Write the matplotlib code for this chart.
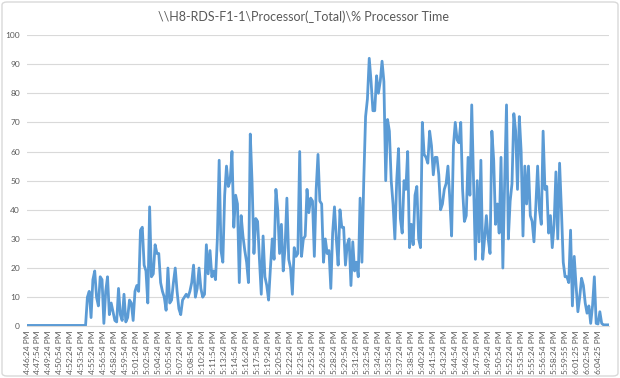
import matplotlib
matplotlib.use("Agg")
import matplotlib.pyplot as plt
from matplotlib.patches import FancyBboxPatch
import numpy as np

plt.rcParams['font.family'] = ['Lato', 'DejaVu Sans']

title = "\\\\H8-RDS-F1-1\\Processor(_Total)\\% Processor Time"

# one sample every ~15 s, a label every 6th sample
tick_labels = [
    "4:46:24 PM", "4:47:54 PM", "4:49:24 PM", "4:50:54 PM", "4:52:24 PM", "4:53:54 PM",
    "4:55:24 PM", "4:56:54 PM", "4:58:24 PM", "4:59:54 PM", "5:01:24 PM", "5:02:54 PM",
    "5:04:24 PM", "5:05:54 PM", "5:07:24 PM", "5:08:54 PM", "5:10:24 PM", "5:11:54 PM",
    "5:13:24 PM", "5:14:54 PM", "5:16:24 PM", "5:17:54 PM", "5:19:24 PM", "5:20:54 PM",
    "5:22:24 PM", "5:23:54 PM", "5:25:24 PM", "5:26:54 PM", "5:28:24 PM", "5:29:54 PM",
    "5:31:24 PM", "5:32:54 PM", "5:34:24 PM", "5:35:54 PM", "5:37:24 PM", "5:38:54 PM",
    "5:40:24 PM", "5:41:54 PM", "5:43:24 PM", "5:44:54 PM", "5:46:24 PM", "5:47:54 PM",
    "5:49:24 PM", "5:50:54 PM", "5:52:24 PM", "5:53:54 PM", "5:55:24 PM", "5:56:54 PM",
    "5:58:24 PM", "5:59:55 PM", "6:01:25 PM", "6:02:54 PM", "6:04:25 PM",
]
label_step = 6

# % processor time
cpu_pct = [
    # idle start
    0.3, 0.3, 0.3, 0.3, 0.3, 0.3, 0.3, 0.3, 0.3, 0.3, 0.3,
    0.3, 0.3, 0.3, 0.3, 0.3, 0.3, 0.3, 0.3, 0.3, 0.3, 0.3,
    0.3, 0.3, 0.3, 0.3, 0.3, 0.3, 0.3, 0.3, 0.3, 0.3, 0.3,
    # 4:54 - 5:06
    10, 12, 3, 16, 19, 10, 7, 17, 16, 1, 12, 17, 4, 8, 5, 2, 1.5, 13, 4, 2,
    11, 1.5, 3, 9, 8, 2, 12, 14, 12, 33, 34, 21, 19, 8, 41, 17, 18, 28, 25, 25,
    15, 12, 10, 5.5, 20, 8, 9, 15,
    # 5:06 - 5:18
    20, 12, 6, 4, 9, 10, 11, 10, 12, 15, 21, 10, 13, 20, 13, 10, 11, 28, 18, 26,
    17, 19, 16, 30, 57, 26, 22, 45, 55, 48, 50, 60, 34, 45, 42, 15, 38, 31, 26, 22,
    15, 66, 49, 25, 37, 36, 23, 11, 31, 17,
    # 5:18 - 5:30
    14, 9, 20, 30, 23, 47, 40, 25, 35, 19, 27, 44, 23, 20, 11, 27, 24, 25, 60, 24,
    30, 31, 47, 39, 44, 43, 24, 47, 59, 43, 42, 22, 30, 25, 26, 13, 32, 41, 30, 21,
    40, 34, 34, 21, 28, 30, 14, 29, 19,
    # 5:30 - 5:42
    22, 17, 44, 22, 50, 72, 78, 92, 84, 74, 74, 86, 80, 84, 91, 84, 50, 71, 67, 50,
    42, 30, 50, 61, 37, 32, 50, 47, 60, 27, 35, 28, 45, 48, 30, 27, 70, 59, 58, 56,
    67, 62, 52, 58, 58, 52, 40, 42, 47,
    # 5:42 - 5:54
    49, 55, 44, 31, 62, 70, 64, 63, 70, 47, 36, 38, 58, 45, 76, 50, 23, 50, 29, 57,
    23, 30, 38, 30, 25, 67, 57, 35, 42, 32, 58, 20, 50, 76, 30, 43, 49, 73, 67, 47,
    72, 60, 31, 55, 42, 55, 38, 36, 29,
    # 5:54 - end
    41, 55, 40, 35, 67, 47, 48, 32, 38, 27, 35, 53, 30, 56, 40, 22, 17, 17, 15, 33,
    7, 24, 14, 5, 10, 16.5, 14, 8, 4.5, 7, 1, 7, 17, 1, 0.8, 5, 1, 0.5, 0.5, 0.5,
    0.5,
]

W, H = 620, 378
fig = plt.figure(figsize=(W / 100, H / 100), dpi=100)

# chart area border
fig.patches.append(FancyBboxPatch((2 / W, 2 / H), 1 - 4 / W, 1 - 4 / H,
                                  boxstyle="round,pad=0,rounding_size=0.008",
                                  transform=fig.transFigure, fill=False,
                                  edgecolor="#D9D9D9", linewidth=1.0))

left, right, top, bottom = 27, 609, 35, 326.3
ax = fig.add_axes([left / W, 1 - bottom / H, (right - left) / W, (bottom - top) / H])

x = np.arange(len(cpu_pct))
ax.plot(x, cpu_pct, color="#5B9BD5", linewidth=2.0, solid_joinstyle="round", zorder=3)

ax.set_xlim(0, len(cpu_pct) - 1)
ax.set_ylim(0, 100)
ax.set_yticks(range(0, 101, 10))
ax.set_xticks(np.arange(len(tick_labels)) * label_step)
ax.set_xticklabels(tick_labels, rotation=90)

ax.grid(axis="y", color="#D9D9D9", linewidth=0.8)
ax.set_axisbelow(True)
for s in ["top", "right", "left"]:
    ax.spines[s].set_visible(False)
ax.spines["bottom"].set_color("#D9D9D9")
ax.spines["bottom"].set_linewidth(0.8)

ax.tick_params(axis="both", length=0, colors="#595959", labelsize=6)
ax.tick_params(axis="y", pad=5)
ax.tick_params(axis="x", pad=3)

fig.text(0.49, 1 - 17 / H, title, ha="center", va="center", fontsize=9.0, color="#595959")

fig.savefig("out.png", dpi=100)
